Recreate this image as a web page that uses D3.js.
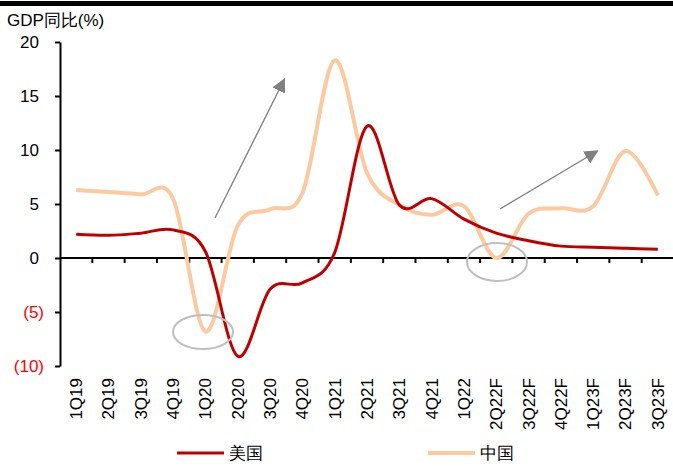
<!DOCTYPE html>
<html>
<head>
<meta charset="utf-8">
<script src="https://cdn.jsdelivr.net/npm/d3@7"></script>
<style>
  body { margin: 0; background: #fff; }
  text { font-family: "Liberation Sans", Arial, sans-serif; }
</style>
</head>
<body>
<svg id="chart" width="673" height="466"></svg>
<script>
// quarters on the x axis
const quarters = ["1Q19", "2Q19", "3Q19", "4Q19", "1Q20", "2Q20", "3Q20", "4Q20",
  "1Q21", "2Q21", "3Q21", "4Q21", "1Q22", "2Q22F", "3Q22F", "4Q22F", "1Q23F", "2Q23F", "3Q23F"];
// GDP yoy (%)
const us_values = [2.2, 2.1, 2.3, 2.6, 0.6, -9.1, -2.9, -2.3, 0.5, 12.2, 4.9, 5.5, 3.6, 2.3, 1.6, 1.1, 1.0, 0.9, 0.8];
const china_values = [6.3, 6.1, 5.9, 5.5, -6.8, 3.0, 4.5, 6.0, 18.3, 7.9, 4.9, 4.0, 4.8, 0.0, 4.1, 4.6, 4.8, 9.9, 5.8];
const y_ticks = [20, 15, 10, 5, 0, -5, -10];

const svg = d3.select("svg#chart");
const plot = { left: 60, right: 674, top: 42, bottom: 366 };

const x = d3.scaleBand().domain(quarters).range([plot.left, plot.right]).paddingInner(0).paddingOuter(0);
const y = d3.scaleLinear().domain([-10, 20]).range([plot.bottom, plot.top]);

// black bar on top
svg.append("rect").attr("x", 0).attr("y", 1).attr("width", 673).attr("height", 5).attr("fill", "#000");

// title
svg.append("text").attr("x", 7).attr("y", 26).attr("font-size", 17).attr("fill", "#000")
  .text("GDP同比(%)");

// y axis
const fmt = (v) => v < 0 ? "(" + Math.abs(v) + ")" : String(v);
const y_axis = svg.append("g").attr("transform", `translate(${plot.left},0)`)
  .call(d3.axisLeft(y).tickValues(y_ticks).tickSize(5).tickSizeOuter(0).tickFormat(fmt));
y_axis.select(".domain").attr("stroke", "#000").attr("stroke-width", 2);
y_axis.selectAll(".tick line").attr("stroke", "#000").attr("stroke-width", 2);
y_axis.selectAll(".tick text")
  .attr("font-size", 17)
  .attr("font-family", "Liberation Sans, Arial, sans-serif")
  .attr("x", (d) => d < 0 ? -16 : -21)
  .attr("fill", (d) => d < 0 ? "#ff0000" : "#000");

// x axis at zero (ticks between categories)
const x_axis = svg.append("g");
x_axis.append("line")
  .attr("x1", plot.left).attr("x2", plot.right)
  .attr("y1", y(0)).attr("y2", y(0))
  .attr("stroke", "#000").attr("stroke-width", 2);
x_axis.selectAll("line.tick")
  .data(quarters.slice(1))
  .join("line")
  .attr("class", "tick")
  .attr("x1", (d) => x(d)).attr("x2", (d) => x(d))
  .attr("y1", y(0)).attr("y2", y(0) + 5)
  .attr("stroke", "#000").attr("stroke-width", 2);

// x labels, rotated, at bottom
svg.append("g").selectAll("text")
  .data(quarters)
  .join("text")
  .attr("transform", (d) => `translate(${x(d) + x.bandwidth() / 2},378) rotate(-90)`)
  .attr("text-anchor", "end")
  .attr("dy", "0.35em")
  .attr("font-size", 17)
  .attr("fill", "#000")
  .text((d) => d);

// lines
const line = (vals) => d3.line()
  .x((d, i) => x(quarters[i]) + x.bandwidth() / 2)
  .y((d) => y(d))
  .curve(d3.curveCardinal.tension(0))(vals);

svg.append("path").attr("d", line(china_values))
  .attr("fill", "none").attr("stroke", "#fcc9a0").attr("stroke-width", 4);
svg.append("path").attr("d", line(us_values))
  .attr("fill", "none").attr("stroke", "#c00000").attr("stroke-width", 3);

// annotations: ellipses
svg.append("ellipse").attr("cx", 203).attr("cy", 332).attr("rx", 30).attr("ry", 17)
  .attr("fill", "none").attr("stroke", "#bfbfbf").attr("stroke-width", 2);
svg.append("ellipse").attr("cx", 497).attr("cy", 262).attr("rx", 30).attr("ry", 19)
  .attr("fill", "none").attr("stroke", "#bfbfbf").attr("stroke-width", 2);

// annotations: arrows
svg.append("defs").append("marker")
  .attr("id", "arrow")
  .attr("viewBox", "0 0 10 10")
  .attr("refX", 2).attr("refY", 5)
  .attr("markerWidth", 14).attr("markerHeight", 14)
  .attr("markerUnits", "userSpaceOnUse")
  .attr("orient", "auto")
  .append("path").attr("d", "M0,0 L10,5 L0,10 Z").attr("fill", "#808080");

[[215, 218, 280, 88], [500, 209, 589, 156]].forEach((a) => {
  svg.append("line")
    .attr("x1", a[0]).attr("y1", a[1]).attr("x2", a[2]).attr("y2", a[3])
    .attr("stroke", "#808080").attr("stroke-width", 1.3)
    .attr("marker-end", "url(#arrow)");
});

// legend
const legend = [
  { name: "美国", color: "#c00000", width: 3, x: 177 },
  { name: "中国", color: "#fcc9a0", width: 4, x: 428 },
];
legend.forEach((l) => {
  svg.append("line").attr("x1", l.x).attr("x2", l.x + 47).attr("y1", 453).attr("y2", 453)
    .attr("stroke", l.color).attr("stroke-width", l.width);
  svg.append("text").attr("x", l.x + 52).attr("y", 453).attr("dy", "0.35em")
    .attr("font-size", 17).attr("fill", "#000").text(l.name);
});
</script>
</body>
</html>
